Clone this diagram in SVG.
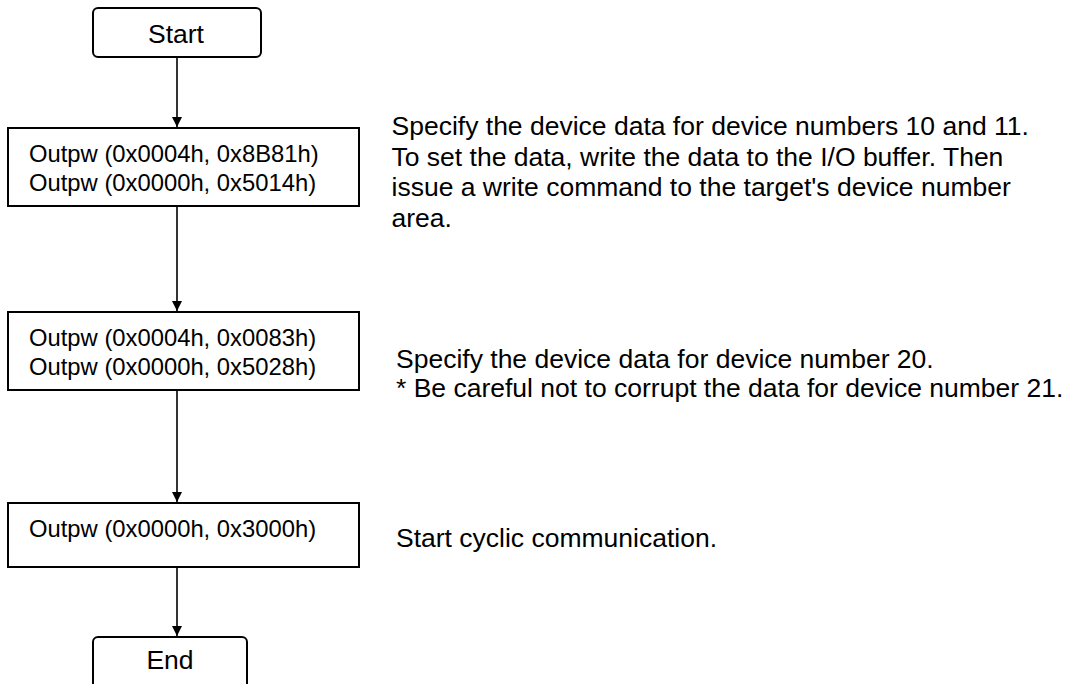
<svg xmlns="http://www.w3.org/2000/svg" width="1073" height="684" viewBox="0 0 1073 684">
<style>
.box{fill:#fff;stroke:#000;stroke-width:2}
.t{font-family:"Liberation Sans",Arial,sans-serif;fill:#000}
.bt{font-size:23.8px}
.nt{font-size:26.5px}
.conn{stroke:#000;stroke-width:1.6;fill:none}
</style>
<defs>
<marker id="arr" viewBox="0 0 10 10" refX="10" refY="5" markerWidth="10" markerHeight="10" markerUnits="userSpaceOnUse" orient="auto">
<path d="M0,0 L10,5 L0,10 Z" fill="#000"/>
</marker>
</defs>
<rect width="1073" height="684" fill="#fff"/>
<g id="connectors">
<line class="conn" x1="177" y1="57" x2="177" y2="127" marker-end="url(#arr)"/>
<line class="conn" x1="177" y1="206" x2="177" y2="311" marker-end="url(#arr)"/>
<line class="conn" x1="177" y1="390" x2="177" y2="502" marker-end="url(#arr)"/>
<line class="conn" x1="177" y1="567" x2="177" y2="636" marker-end="url(#arr)"/>
</g>
<g id="start">
<rect class="box" x="93" y="8" width="168" height="49" rx="5"/>
<text class="t nt" x="176" y="43" text-anchor="middle">Start</text>
</g>
<g id="step1">
<rect class="box" x="8" y="128" width="351" height="78"/>
<text class="t bt" x="29" y="162">Outpw (0x0004h, 0x8B81h)</text>
<text class="t bt" x="29" y="191">Outpw (0x0000h, 0x5014h)</text>
</g>
<g id="step2">
<rect class="box" x="8" y="312" width="351" height="78"/>
<text class="t bt" x="29" y="346">Outpw (0x0004h, 0x0083h)</text>
<text class="t bt" x="29" y="375">Outpw (0x0000h, 0x5028h)</text>
</g>
<g id="step3">
<rect class="box" x="8" y="503" width="351" height="64"/>
<text class="t bt" x="29" y="537">Outpw (0x0000h, 0x3000h)</text>
</g>
<g id="end">
<rect class="box" x="93" y="637" width="154" height="52" rx="5"/>
<text class="t nt" x="170" y="669" text-anchor="middle">End</text>
</g>
<g id="note1">
<text class="t nt" x="391.5" y="135">Specify the device data for device numbers 10 and 11.</text>
<text class="t nt" x="391.5" y="166">To set the data, write the data to the I/O buffer. Then</text>
<text class="t nt" x="391.5" y="196">issue a write command to the target's device number</text>
<text class="t nt" x="391.5" y="227">area.</text>
</g>
<g id="note2">
<text class="t nt" x="396" y="368">Specify the device data for device number 20.</text>
<text class="t nt" x="396" y="397">* Be careful not to corrupt the data for device number 21.</text>
</g>
<g id="note3">
<text class="t nt" x="396" y="547">Start cyclic communication.</text>
</g>
</svg>
